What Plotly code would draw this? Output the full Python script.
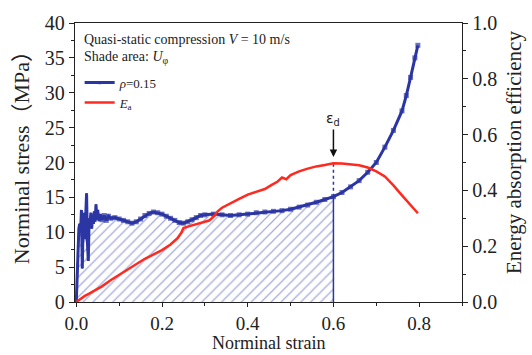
import plotly.graph_objects as go

# ---- data ----
strain_b = [0.000, 0.002, 0.004, 0.006, 0.008, 0.010, 0.012, 0.014, 0.016, 0.018,
            0.020, 0.022, 0.024, 0.026, 0.028, 0.030, 0.032, 0.034, 0.036, 0.038,
            0.040, 0.042, 0.044, 0.046, 0.048, 0.050, 0.053, 0.056, 0.060, 0.065,
            0.070, 0.075, 0.080, 0.090, 0.100, 0.110, 0.120, 0.130, 0.140, 0.150,
            0.160, 0.170, 0.180, 0.190, 0.200, 0.210, 0.220, 0.230, 0.240, 0.250,
            0.260, 0.270, 0.280, 0.290, 0.300, 0.320, 0.340, 0.360, 0.380, 0.400,
            0.420, 0.440, 0.460, 0.480, 0.500, 0.520, 0.540, 0.560, 0.580, 0.600,
            0.620, 0.640, 0.660, 0.680, 0.700, 0.720, 0.740, 0.760, 0.770, 0.780,
            0.790, 0.797]
stress_b = [0.0, 4.0, 9.5, 10.5, 11.2, 10.0, 13.2, 4.8, 11.5, 12.8,
            9.0, 13.5, 15.6, 8.5, 5.9, 12.0, 11.0, 12.8, 10.5, 12.5,
            11.2, 13.0, 11.5, 14.0, 11.8, 13.2, 11.6, 12.6, 11.8, 12.4,
            11.7, 12.3, 12.0, 12.1, 11.9, 11.7, 11.5, 11.3, 11.5, 11.9,
            12.4, 12.7, 12.9, 12.8, 12.6, 12.3, 12.0, 11.7, 11.4, 11.3,
            11.5, 11.8, 12.1, 12.4, 12.5, 12.6, 12.5, 12.4, 12.5, 12.6,
            12.8, 12.9, 13.0, 13.1, 13.3, 13.6, 13.9, 14.3, 14.7, 15.1,
            15.7, 16.5, 17.4, 18.6, 20.0, 22.2, 24.6, 27.4, 29.6, 32.2,
            35.0, 36.8]

strain_r = [0.000, 0.010, 0.020, 0.030, 0.040, 0.050, 0.060, 0.080, 0.100, 0.120,
            0.140, 0.160, 0.175, 0.190, 0.200, 0.220, 0.237, 0.245, 0.250, 0.260,
            0.280, 0.300, 0.310, 0.320, 0.330, 0.340, 0.360, 0.380, 0.400, 0.420,
            0.440, 0.456, 0.470, 0.480, 0.490, 0.500, 0.520, 0.540, 0.560, 0.580,
            0.600, 0.620, 0.640, 0.660, 0.680, 0.700, 0.720, 0.740, 0.760, 0.780,
            0.797]
eff_r = [0.000, 0.012, 0.022, 0.030, 0.038, 0.047, 0.056, 0.078, 0.098, 0.118,
         0.138, 0.155, 0.166, 0.178, 0.186, 0.206, 0.230, 0.248, 0.265, 0.270,
         0.278, 0.286, 0.292, 0.305, 0.325, 0.338, 0.355, 0.370, 0.385, 0.395,
         0.405, 0.420, 0.432, 0.446, 0.440, 0.455, 0.468, 0.478, 0.486, 0.491,
         0.497, 0.496, 0.494, 0.490, 0.482, 0.468, 0.450, 0.418, 0.382, 0.347,
         0.318]

eps_d = 0.60
x_ticks = [0.0, 0.2, 0.4, 0.6, 0.8]
y_ticks = [0, 5, 10, 15, 20, 25, 30, 35, 40]
y2_ticks = [0.0, 0.2, 0.4, 0.6, 0.8, 1.0]

BLUE = "#2b35a3"
RED = "#ff2a1f"
FONT = "Liberation Serif, Times New Roman, Noto Sans CJK SC, serif"

# shaded region up to eps_d
i_d = strain_b.index(eps_d)
shade_x = strain_b[:i_d + 1] + [eps_d]
shade_y = stress_b[:i_d + 1] + [0.0]

# markers only drawn on the smooth part of the curve
marker_sizes = [0 if s < 0.06 else 5 for s in strain_b]

fig = go.Figure()
fig.add_trace(go.Scatter(
    x=shade_x, y=shade_y, mode="lines", fill="tozeroy",
    fillcolor="rgba(255,255,255,0)",
    fillpattern=dict(shape="/", fgcolor="rgba(55,70,170,0.9)", bgcolor="rgba(255,255,255,0)",
                     size=7, solidity=0.18),
    line=dict(color=BLUE, width=1.5), showlegend=False, hoverinfo="skip"))

# dotted line from stress curve up to efficiency peak at eps_d
i_r = strain_r.index(eps_d)
fig.add_trace(go.Scatter(
    x=[eps_d, eps_d], y=[stress_b[i_d] / 40.0, eff_r[i_r]], yaxis="y2",
    mode="lines", line=dict(color=BLUE, width=1.5, dash="dot"),
    showlegend=False, hoverinfo="skip"))

fig.add_trace(go.Scatter(
    x=strain_b, y=stress_b, mode="lines+markers", name="<i>ρ</i>=0.15",
    line=dict(color=BLUE, width=3),
    marker=dict(symbol="square", size=marker_sizes, color=BLUE, line=dict(width=0))))

fig.add_trace(go.Scatter(
    x=strain_r, y=eff_r, yaxis="y2", mode="lines", name="<i>E</i><sub>a</sub>",
    line=dict(color=RED, width=2.5)))

axis_common = dict(showline=True, linecolor="#222", linewidth=1.3, ticks="outside",
                   tickwidth=1.3, tickcolor="#222", showgrid=False, zeroline=False)

fig.update_layout(
    width=532, height=355,
    margin=dict(l=75, r=70, t=19, b=53),
    paper_bgcolor="white", plot_bgcolor="white",
    font=dict(family=FONT, color="#222"),
    xaxis=dict(range=[-0.003, 0.9], tickvals=x_ticks, ticktext=[f"{v:.1f}" for v in x_ticks],
               mirror=True, ticklen=4,
               tickfont=dict(family=FONT, size=19, color="#222"),
               minor=dict(dtick=0.1, tick0=0, ticks="outside", ticklen=3, tickcolor="#222"),
               **axis_common),
    yaxis=dict(range=[0, 40], tickvals=y_ticks, ticklen=5,
               tickfont=dict(family=FONT, size=20, color="#222"),
               minor=dict(dtick=2.5, tick0=0, ticks="outside", ticklen=3, tickcolor="#222"),
               **axis_common),
    yaxis2=dict(range=[0, 1], overlaying="y", side="right", tickvals=y2_ticks,
                ticktext=[f"{v:.1f}" for v in y2_ticks], ticklen=5,
                tickfont=dict(family=FONT, size=20, color="#222"),
                minor=dict(dtick=0.1, tick0=0, ticks="outside", ticklen=3, tickcolor="#222"),
                **axis_common),
    legend=dict(x=0.012, y=0.84, xanchor="left", yanchor="top", bgcolor="rgba(0,0,0,0)",
                font=dict(family=FONT, size=13, color="#222"), tracegroupgap=0,
                itemwidth=30),
    showlegend=True,
)

# axis titles
fig.add_annotation(xref="paper", yref="paper", x=0.501, y=-0.186, xanchor="center", yanchor="bottom",
                   text="Norminal strain", showarrow=False, borderpad=0,
                   font=dict(family=FONT, size=18, color="#222"))
fig.add_annotation(xref="paper", yref="paper", x=-0.1395, y=0.537, xanchor="center", yanchor="middle",
                   text="Norminal stress（MPa）", showarrow=False, textangle=-90,
                   font=dict(family=FONT, size=22, color="#222"))
fig.add_annotation(xref="paper", yref="paper", x=1.134, y=0.537, xanchor="center", yanchor="middle",
                   text="Energy absorption efficiency", showarrow=False, textangle=-90,
                   font=dict(family=FONT, size=21, color="#222"))

fig.add_annotation(xref="paper", yref="paper", x=0.018, y=0.94, xanchor="left", yanchor="middle",
                   text="Quasi-static compression <i>V</i> = 10 m/s", showarrow=False,
                   font=dict(family=FONT, size=14, color="#222"))
fig.add_annotation(xref="paper", yref="paper", x=0.018, y=0.877, xanchor="left", yanchor="middle",
                   text="Shade area: <i>U</i><sub>φ</sub>", showarrow=False,
                   font=dict(family=FONT, size=14, color="#222"))

fig.add_annotation(x=eps_d, y=0.52, xref="x", yref="y2", text="ε<sub>d</sub>",
                   showarrow=True, arrowhead=2, arrowsize=1, arrowwidth=1.5, arrowcolor="#111",
                   ax=0, ay=-38, font=dict(family="DejaVu Sans, sans-serif", size=14, color="#222"))

fig.write_html("out.html")
